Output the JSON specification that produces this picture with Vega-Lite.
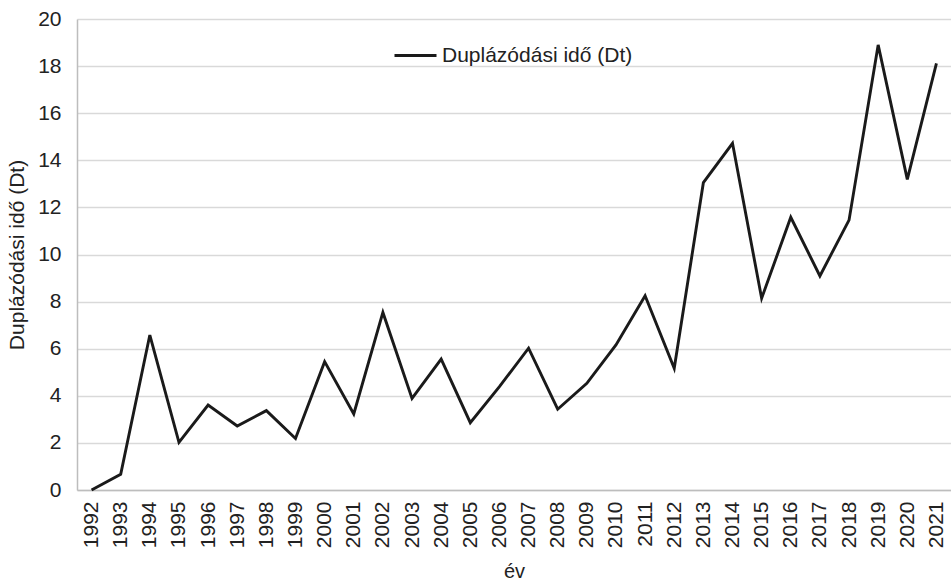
{
  "$schema": "https://vega.github.io/schema/vega-lite/v6.json",
  "width": 874,
  "height": 471,
  "autosize": "none",
  "padding": {"left": 77, "top": 19, "right": 0, "bottom": 93},
  "background": "white",
  "config": {
    "font": "Liberation Sans",
    "view": {"stroke": null}
  },
  "data": {
    "values": [
      {"ev": "1992", "Dt": 0, "s": "Duplázódási idő (Dt)"},
      {"ev": "1993", "Dt": 0.67, "s": "Duplázódási idő (Dt)"},
      {"ev": "1994", "Dt": 6.58, "s": "Duplázódási idő (Dt)"},
      {"ev": "1995", "Dt": 2.02, "s": "Duplázódási idő (Dt)"},
      {"ev": "1996", "Dt": 3.61, "s": "Duplázódási idő (Dt)"},
      {"ev": "1997", "Dt": 2.72, "s": "Duplázódási idő (Dt)"},
      {"ev": "1998", "Dt": 3.37, "s": "Duplázódási idő (Dt)"},
      {"ev": "1999", "Dt": 2.19, "s": "Duplázódási idő (Dt)"},
      {"ev": "2000", "Dt": 5.45, "s": "Duplázódási idő (Dt)"},
      {"ev": "2001", "Dt": 3.23, "s": "Duplázódási idő (Dt)"},
      {"ev": "2002", "Dt": 7.54, "s": "Duplázódási idő (Dt)"},
      {"ev": "2003", "Dt": 3.89, "s": "Duplázódási idő (Dt)"},
      {"ev": "2004", "Dt": 5.56, "s": "Duplázódási idő (Dt)"},
      {"ev": "2005", "Dt": 2.86, "s": "Duplázódási idő (Dt)"},
      {"ev": "2006", "Dt": 4.39, "s": "Duplázódási idő (Dt)"},
      {"ev": "2007", "Dt": 6.02, "s": "Duplázódási idő (Dt)"},
      {"ev": "2008", "Dt": 3.43, "s": "Duplázódási idő (Dt)"},
      {"ev": "2009", "Dt": 4.53, "s": "Duplázódási idő (Dt)"},
      {"ev": "2010", "Dt": 6.16, "s": "Duplázódási idő (Dt)"},
      {"ev": "2011", "Dt": 8.25, "s": "Duplázódási idő (Dt)"},
      {"ev": "2012", "Dt": 5.17, "s": "Duplázódási idő (Dt)"},
      {"ev": "2013", "Dt": 13.05, "s": "Duplázódási idő (Dt)"},
      {"ev": "2014", "Dt": 14.72, "s": "Duplázódási idő (Dt)"},
      {"ev": "2015", "Dt": 8.14, "s": "Duplázódási idő (Dt)"},
      {"ev": "2016", "Dt": 11.58, "s": "Duplázódási idő (Dt)"},
      {"ev": "2017", "Dt": 9.09, "s": "Duplázódási idő (Dt)"},
      {"ev": "2018", "Dt": 11.46, "s": "Duplázódási idő (Dt)"},
      {"ev": "2019", "Dt": 18.9, "s": "Duplázódási idő (Dt)"},
      {"ev": "2020", "Dt": 13.19, "s": "Duplázódási idő (Dt)"},
      {"ev": "2021", "Dt": 18.12, "s": "Duplázódási idő (Dt)"}
    ]
  },
  "mark": {"type": "line", "strokeWidth": 2.9, "strokeJoin": "miter"},
  "encoding": {
    "x": {
      "field": "ev",
      "type": "ordinal",
      "scale": {"type": "point", "padding": 0.5},
      "axis": {
        "title": "év",
        "titleFontSize": 20,
        "titleFontWeight": "normal",
        "titleColor": "#222",
        "titlePadding": 14,
        "labelAngle": -90,
        "labelFontSize": 21,
        "labelColor": "#222",
        "labelPadding": 11,
        "ticks": false,
        "domainColor": "#bdbdbd",
        "domainWidth": 1.5,
        "grid": false
      }
    },
    "y": {
      "field": "Dt",
      "type": "quantitative",
      "scale": {"domain": [0, 20], "nice": false},
      "axis": {
        "title": "Duplázódási idő (Dt)",
        "titleFontSize": 21,
        "titleFontWeight": "normal",
        "titleColor": "#222",
        "titlePadding": 10,
        "values": [0, 2, 4, 6, 8, 10, 12, 14, 16, 18, 20],
        "labelFontSize": 21,
        "labelColor": "#222",
        "labelPadding": 16,
        "ticks": false,
        "domainColor": "#bdbdbd",
        "domainWidth": 1.5,
        "gridColor": "#d9d9d9",
        "gridWidth": 1.5
      }
    },
    "color": {
      "field": "s",
      "type": "nominal",
      "scale": {"range": ["#1a1a1a"]},
      "legend": {
        "title": null,
        "orient": "none",
        "legendX": 316,
        "legendY": 14,
        "symbolType": "stroke",
        "symbolSize": 1764,
        "symbolStrokeWidth": 2.9,
        "labelFontSize": 21,
        "labelLimit": 400,
        "labelColor": "#222",
        "labelOffset": 4
      }
    }
  }
}
